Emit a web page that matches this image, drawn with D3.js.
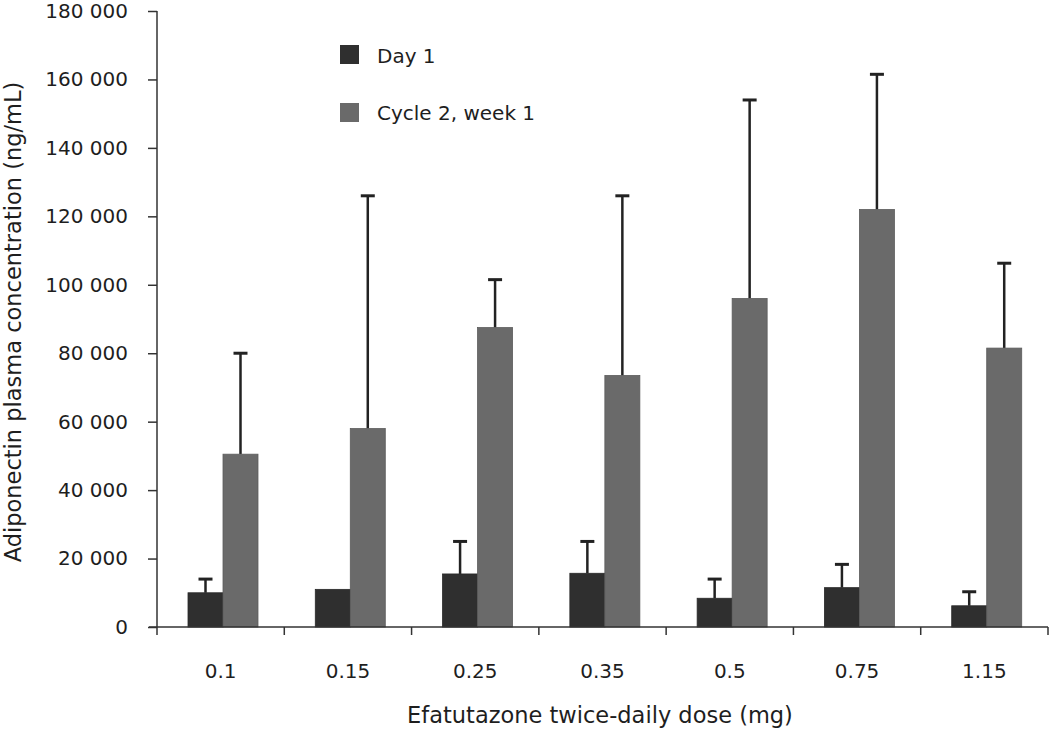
<!DOCTYPE html>
<html>
<head>
<meta charset="utf-8">
<script src="https://cdn.jsdelivr.net/npm/d3@7/dist/d3.min.js"></script>
<style>
  html, body { margin: 0; padding: 0; background: #fff; }
  svg { display: block; }
  text { font-family: "DejaVu Sans", "Liberation Sans", Arial, sans-serif; fill: #1e1e1e; }
</style>
</head>
<body>
<svg id="chart" width="1050" height="732"></svg>
<script>
// ---- Data ----
const categories = ["0.1", "0.15", "0.25", "0.35", "0.5", "0.75", "1.15"];
const seriesNames = ["Day 1", "Cycle 2, week 1"];
const day1Values = [10000, 11000, 15500, 15700, 8400, 11500, 6200];
const day1Upper = [14000, null, 25000, 25000, 14000, 18300, 10300];
const cycle2Values = [50500, 58000, 87500, 73500, 96000, 122000, 81500];
const cycle2Upper = [80000, 126000, 101500, 126000, 154000, 161500, 106300];
const yTicks = [0, 20000, 40000, 60000, 80000, 100000, 120000, 140000, 160000, 180000];
const xTitle = "Efatutazone twice-daily dose (mg)";
const yTitle = "Adiponectin plasma concentration (ng/mL)";

// ---- Layout ----
const colors = ["#2f2f2f", "#6a6a6a"];
const svg = d3.select("#chart");
const mLeft = 157, mRight = 1048, mTop = 11, mBottom = 627;

const x = d3.scaleBand().domain(categories).range([mLeft, mRight]).padding(0);
const inner = d3.scaleBand().domain(seriesNames).range([31, 101]).padding(0);
const y = d3.scaleLinear().domain([0, 180000]).range([mBottom, mTop]);

const locale = d3.formatLocale({ decimal: ".", thousands: " ", grouping: [3], currency: ["", ""] });
const fmt = locale.format(",d");

const rows = [];
categories.forEach((c, i) => {
  rows.push({ cat: c, s: seriesNames[0], v: day1Values[i], up: day1Upper[i], color: colors[0] });
  rows.push({ cat: c, s: seriesNames[1], v: cycle2Values[i], up: cycle2Upper[i], color: colors[1] });
});

// Error bars
const eb = svg.append("g");
rows.filter(d => d.up != null).forEach(d => {
  const cx = x(d.cat) + inner(d.s) + inner.bandwidth() / 2;
  eb.append("line").attr("x1", cx).attr("x2", cx).attr("y1", y(d.v)).attr("y2", y(d.up))
    .attr("stroke", "#222").attr("stroke-width", 2.5);
  eb.append("line").attr("x1", cx - 7).attr("x2", cx + 7).attr("y1", y(d.up)).attr("y2", y(d.up))
    .attr("stroke", "#222").attr("stroke-width", 3);
});

// Bars
svg.append("g").selectAll("rect").data(rows).join("rect")
  .attr("x", d => x(d.cat) + inner(d.s))
  .attr("width", inner.bandwidth())
  .attr("y", d => y(d.v))
  .attr("height", d => y(0) - y(d.v))
  .attr("fill", d => d.color)
  .attr("stroke", d => d3.color(d.color).darker(0.4))
  .attr("stroke-width", 0.8);

// Y axis
const yAxis = d3.axisLeft(y).tickValues(yTicks).tickFormat(fmt).tickSize(9).tickPadding(20);
const gy = svg.append("g").attr("transform", `translate(${mLeft},0)`).call(yAxis);
gy.select(".domain").remove();
gy.selectAll(".tick line").attr("stroke", "#333").attr("stroke-width", 1.5);
gy.selectAll(".tick text").attr("font-size", 20).attr("font-family", "DejaVu Sans").attr("fill", "#1e1e1e");
svg.append("line").attr("x1", mLeft).attr("x2", mLeft).attr("y1", y(180000)).attr("y2", mBottom + 8)
  .attr("stroke", "#333").attr("stroke-width", 1.5);

// X axis
const xAxis = d3.axisBottom(x).tickSize(0).tickPadding(37);
const gx = svg.append("g").attr("transform", `translate(0,${mBottom})`).call(xAxis);
gx.select(".domain").remove();
gx.selectAll(".tick text").attr("font-size", 20).attr("font-family", "DejaVu Sans").attr("fill", "#1e1e1e");
svg.append("line").attr("x1", mLeft - 8).attr("x2", mRight).attr("y1", mBottom).attr("y2", mBottom)
  .attr("stroke", "#333").attr("stroke-width", 1.5);
svg.append("g").selectAll("line").data(categories).join("line")
  .attr("x1", d => x(d) + x.bandwidth()).attr("x2", d => x(d) + x.bandwidth())
  .attr("y1", mBottom).attr("y2", mBottom + 8)
  .attr("stroke", "#333").attr("stroke-width", 1.5);

// Axis titles
svg.append("text").attr("x", 600).attr("y", 723)
  .attr("text-anchor", "middle").attr("font-size", 22.5).text(xTitle);
svg.append("text").attr("transform", "translate(21,322) rotate(-90)")
  .attr("text-anchor", "middle").attr("font-size", 22.5).text(yTitle);

// Legend
const legend = svg.append("g");
seriesNames.forEach((s, i) => {
  legend.append("rect").attr("x", 340).attr("y", 45 + i * 58).attr("width", 19).attr("height", 19)
    .attr("fill", colors[i]);
  legend.append("text").attr("x", 377).attr("y", 63 + i * 57).attr("font-size", 20).text(s);
});
</script>
</body>
</html>
